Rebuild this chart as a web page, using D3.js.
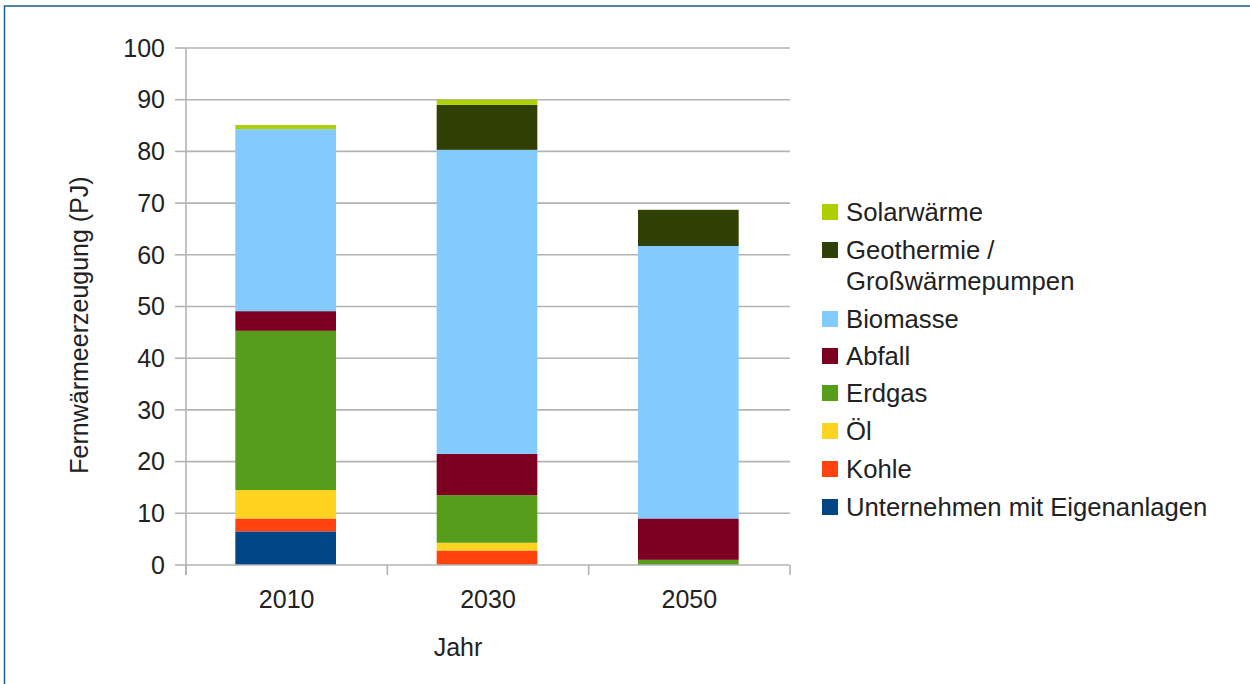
<!DOCTYPE html>
<html>
<head>
<meta charset="utf-8">
<script src="https://cdn.jsdelivr.net/npm/d3@7"></script>
<style>
  html, body { margin: 0; padding: 0; background: #fff; }
  svg { display: block; font-family: "Liberation Sans", Arial, sans-serif; }
</style>
</head>
<body>
<svg id="chart" width="1250" height="684"></svg>
<script>
// District heat generation by source (PJ)
const years = ["2010", "2030", "2050"];
const sources = ["Unternehmen mit Eigenanlagen", "Kohle", "Öl", "Erdgas", "Abfall", "Biomasse", "Geothermie / Großwärmepumpen", "Solarwärme"];
const unternehmen = [6.5, 0, 0];
const kohle = [2.5, 2.8, 0];
const oel = [5.5, 1.5, 0];
const erdgas = [30.8, 9.2, 1.0];
const abfall = [3.8, 8.0, 8.0];
const biomasse = [35.2, 58.8, 52.7];
const geothermie = [0, 8.7, 7.0];
const solar = [0.8, 1.0, 0];
const yTicks = [0, 10, 20, 30, 40, 50, 60, 70, 80, 90, 100];
const colors = ["#004586", "#ff420e", "#ffd320", "#579d1c", "#7e0021", "#83caff", "#314004", "#aecf00"];

const seriesValues = [unternehmen, kohle, oel, erdgas, abfall, biomasse, geothermie, solar];
const rows = years.map((yr, i) => {
  const r = { year: yr };
  sources.forEach((s, k) => { r[s] = seriesValues[k][i]; });
  return r;
});

const svg = d3.select("#chart");
const textColor = "#222";
const gridColor = "#b3b3b3";
const fontSize = 25;
const legendFontSize = 25.7;

// frame
svg.append("rect")
  .attr("x", 4.5).attr("y", 6)
  .attr("width", 1400).attr("height", 800)
  .attr("fill", "none").attr("stroke", "#1b5a8e").attr("stroke-width", 1.5);

const plotLeft = 186, plotRight = 790, plotTop = 48, plotBottom = 565;
const x = d3.scaleBand().domain(years).range([plotLeft, plotRight]).paddingInner(0.5).paddingOuter(0.25);
const y = d3.scaleLinear().domain([0, 100]).range([plotBottom, plotTop]);

// horizontal grid
svg.append("g").selectAll("line").data(yTicks.filter(t => t > 0)).join("line")
  .attr("x1", plotLeft).attr("x2", plotRight)
  .attr("y1", d => y(d)).attr("y2", d => y(d))
  .attr("stroke", gridColor).attr("stroke-width", 1.6);

// stacked bars
const stack = d3.stack().keys(sources);
const layers = stack(rows);
svg.append("g").selectAll("g").data(layers).join("g")
  .attr("fill", (d, i) => colors[i])
  .selectAll("rect").data(d => d).join("rect")
  .attr("x", d => x(d.data.year) - 1)
  .attr("width", x.bandwidth())
  .attr("y", d => y(d[1]))
  .attr("height", d => y(d[0]) - y(d[1]));

// y axis
const yAxis = svg.append("g");
yAxis.append("line")
  .attr("x1", plotLeft).attr("x2", plotLeft).attr("y1", plotTop).attr("y2", plotBottom + 10)
  .attr("stroke", gridColor).attr("stroke-width", 1.6);
yAxis.selectAll("line.tick").data(yTicks).join("line").attr("class", "tick")
  .attr("x1", plotLeft - 11).attr("x2", plotLeft)
  .attr("y1", d => y(d)).attr("y2", d => y(d))
  .attr("stroke", gridColor).attr("stroke-width", 1.6);
yAxis.selectAll("text").data(yTicks).join("text")
  .attr("x", plotLeft - 21).attr("y", d => y(d))
  .attr("dy", "0.35em").attr("text-anchor", "end")
  .attr("font-size", fontSize).attr("fill", textColor)
  .text(d => d);

// x axis
const xAxis = svg.append("g");
xAxis.append("line")
  .attr("x1", plotLeft).attr("x2", plotRight).attr("y1", plotBottom).attr("y2", plotBottom)
  .attr("stroke", gridColor).attr("stroke-width", 1.6);
const bounds = d3.range(years.length + 1).map(i => plotLeft + i * x.step());
xAxis.selectAll("line.tick").data(bounds).join("line").attr("class", "tick")
  .attr("x1", d => d).attr("x2", d => d)
  .attr("y1", plotBottom).attr("y2", plotBottom + 10)
  .attr("stroke", gridColor).attr("stroke-width", 1.6);
xAxis.selectAll("text").data(years).join("text")
  .attr("x", d => x(d) + x.bandwidth() / 2).attr("y", 608)
  .attr("text-anchor", "middle")
  .attr("font-size", fontSize).attr("fill", textColor)
  .text(d => d);

// axis titles
svg.append("text")
  .attr("x", 458).attr("y", 656)
  .attr("text-anchor", "middle").attr("font-size", fontSize).attr("fill", textColor)
  .text("Jahr");
svg.append("text")
  .attr("transform", "translate(88,325) rotate(-90)")
  .attr("text-anchor", "middle").attr("font-size", fontSize).attr("fill", textColor)
  .text("Fernwärmeerzeugung (PJ)");

// legend (top item = top of stack)
const legendItems = sources.map((s, i) => ({ name: s, color: colors[i] })).reverse();
const legendY = [212, 250, 319, 356, 393, 431, 469, 507];
const legend = svg.append("g");
legendItems.forEach((it, i) => {
  const cy = legendY[i];
  legend.append("rect")
    .attr("x", 822).attr("y", cy - 8).attr("width", 16).attr("height", 16)
    .attr("fill", it.color);
  const parts = it.name.split(" / ");
  const lines = parts.length > 1 ? [parts[0] + " /", parts[1]] : [it.name];
  const t = legend.append("text")
    .attr("x", 846).attr("y", cy)
    .attr("font-size", legendFontSize).attr("fill", textColor);
  lines.forEach((ln, k) => {
    t.append("tspan").attr("x", 846).attr("dy", k === 0 ? "0.35em" : 31).text(ln);
  });
});
</script>
</body>
</html>
